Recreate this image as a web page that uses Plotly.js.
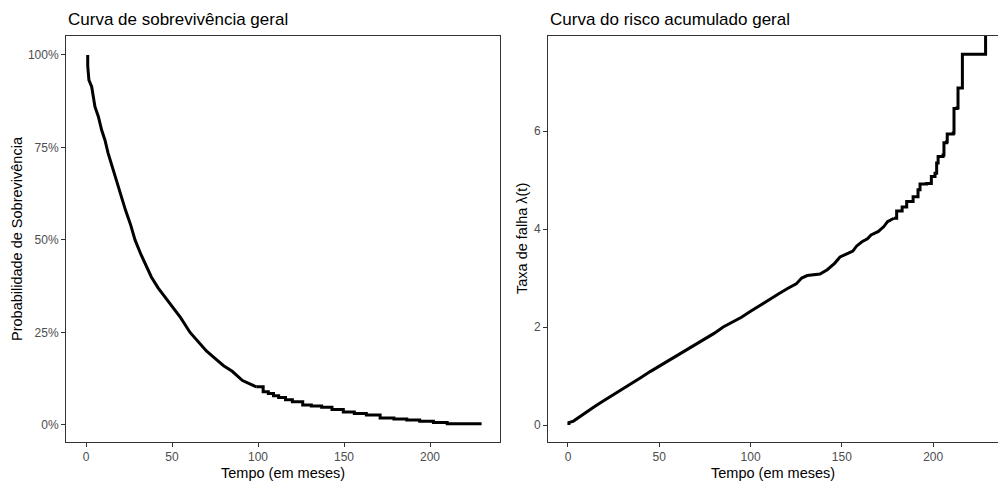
<!DOCTYPE html>
<html>
<head>
<meta charset="utf-8">
<script src="https://cdn.plot.ly/plotly-3.0.1.min.js"></script>
<style>
html,body{margin:0;padding:0;background:#fff;overflow:hidden;}
#chart{width:998px;height:487px;}
</style>
</head>
<body>
<div id="chart"></div>
<script>
// Survival curve: dense early part (many small steps) and sparser tail
var survTimeEarly = [1, 1, 1.7, 3.3, 5.2, 7.2, 9.1, 11, 12.8, 14.5, 17, 20, 23, 26, 28.5, 32, 35, 38, 42, 46, 50, 55, 60.5, 65, 70, 75, 80, 85, 91, 99];
var survProbEarly = [1.0, 0.97, 0.932, 0.914, 0.86, 0.833, 0.797, 0.77, 0.735, 0.708, 0.67, 0.625, 0.58, 0.54, 0.5, 0.46, 0.43, 0.40, 0.37, 0.345, 0.32, 0.29, 0.25, 0.225, 0.20, 0.18, 0.16, 0.145, 0.12, 0.103];
var survTimeTail = [99, 103, 106, 109, 112, 116, 120, 126, 131, 137, 143, 149.6, 156, 163, 171, 179, 186.5, 194, 202, 210, 230];
var survProbTail = [0.103, 0.09, 0.085, 0.079, 0.074, 0.068, 0.063, 0.054, 0.051, 0.048, 0.042, 0.035, 0.031, 0.027, 0.019, 0.016, 0.0135, 0.01, 0.007, 0.003, 0.003];

// Cumulative hazard: smooth-looking early part and visible steps in the tail
// (last value is infinite: drawn to the panel edge)
var hazTimeEarly = [0.5, 0.5, 3, 6, 10, 14, 18, 22, 26, 30, 35, 40, 45, 50, 55, 60, 65, 70, 75, 80, 85, 90, 95, 100, 105, 110, 115, 120, 125, 128, 131, 138, 142, 146, 149, 153, 156, 158, 161, 164, 166, 170, 173, 175, 178.5];
var hazValEarly = [0, 0.05, 0.08, 0.16, 0.25, 0.36, 0.46, 0.55, 0.65, 0.74, 0.86, 0.97, 1.09, 1.2, 1.31, 1.42, 1.53, 1.64, 1.75, 1.87, 2.0, 2.1, 2.2, 2.32, 2.44, 2.56, 2.67, 2.78, 2.88, 3.0, 3.05, 3.08, 3.17, 3.3, 3.43, 3.5, 3.55, 3.65, 3.74, 3.8, 3.88, 3.95, 4.05, 4.15, 4.22];
var hazTimeTail = [178.5, 180, 183, 185.5, 189, 191.7, 192.8, 196.4, 199, 201, 201.9, 202.7, 205.4, 205.9, 207.4, 207.7, 211, 211.4, 213, 213.6, 216, 228.7];
var hazValTail = [4.22, 4.37, 4.45, 4.56, 4.66, 4.8, 4.92, 4.93, 5.07, 5.14, 5.35, 5.48, 5.51, 5.76, 5.78, 5.94, 5.96, 6.46, 6.47, 6.88, 7.57, 50];

// Ticks
var xTicks = [0, 50, 100, 150, 200];
var survTicks = [0, 0.25, 0.5, 0.75, 1];
var survTickText = ['0%', '25%', '50%', '75%', '100%'];
var hazTicks = [0, 2, 4, 6];

var FONT = 'Liberation Sans, Arial, sans-serif';
function line(shape) { return {color: '#000000', width: 3, shape: shape}; }

var traces = [
  {x: survTimeEarly, y: survProbEarly, type: 'scatter', mode: 'lines', line: line('linear'), xaxis: 'x', yaxis: 'y'},
  {x: survTimeTail, y: survProbTail, type: 'scatter', mode: 'lines', line: line('hv'), xaxis: 'x', yaxis: 'y'},
  {x: hazTimeEarly, y: hazValEarly, type: 'scatter', mode: 'lines', line: line('linear'), xaxis: 'x2', yaxis: 'y2'},
  {x: hazTimeTail, y: hazValTail, type: 'scatter', mode: 'lines', line: line('hv'), xaxis: 'x2', yaxis: 'y2'}
];

var axisCommon = {
  showgrid: false, zeroline: false, showline: true, linecolor: '#333333', linewidth: 1,
  ticks: 'outside', ticklen: 4, tickwidth: 1, tickcolor: '#333333',
  tickfont: {family: FONT, size: 12, color: '#4D4D4D'}, fixedrange: true
};

function ax(extra) { return Object.assign({}, axisCommon, extra); }

var W = 998, H = 487;
var layout = {
  width: W, height: H,
  margin: {l: 0, r: 0, t: 0, b: 0},
  paper_bgcolor: '#ffffff', plot_bgcolor: '#ffffff',
  showlegend: false,
  font: {family: FONT},
  xaxis: ax({domain: [66 / W, 500 / W], range: [-11.63, 240.7], tickvals: xTicks, mirror: true, anchor: 'y'}),
  yaxis: ax({domain: [(H - 442) / H, (H - 36) / H], range: [-0.046, 1.051], tickvals: survTicks, ticktext: survTickText, mirror: true, anchor: 'x'}),
  xaxis2: ax({domain: [548 / W, 1], range: [-10.95, 235.5], tickvals: xTicks, mirror: true, anchor: 'y2'}),
  yaxis2: ax({domain: [(H - 442) / H, (H - 36) / H], range: [-0.347, 7.94], tickvals: hazTicks, mirror: false, anchor: 'x2'}),
  annotations: [
    {text: 'Curva de sobrevivência geral', xref: 'paper', yref: 'paper', x: 66 / W, y: 1 - 20 / H, xanchor: 'left', yanchor: 'middle', showarrow: false, font: {family: FONT, size: 17, color: '#000000'}},
    {text: 'Curva do risco acumulado geral', xref: 'paper', yref: 'paper', x: 548 / W, y: 1 - 20 / H, xanchor: 'left', yanchor: 'middle', showarrow: false, font: {family: FONT, size: 17, color: '#000000'}},
    {text: 'Tempo (em meses)', xref: 'paper', yref: 'paper', x: 283 / W, y: 1 - 473 / H, xanchor: 'center', yanchor: 'middle', showarrow: false, font: {family: FONT, size: 14.5, color: '#000000'}},
    {text: 'Tempo (em meses)', xref: 'paper', yref: 'paper', x: 773 / W, y: 1 - 473 / H, xanchor: 'center', yanchor: 'middle', showarrow: false, font: {family: FONT, size: 14.5, color: '#000000'}},
    {text: 'Probabilidade de Sobrevivência', xref: 'paper', yref: 'paper', x: 17 / W, y: 1 - 239 / H, xanchor: 'center', yanchor: 'middle', textangle: -90, showarrow: false, font: {family: FONT, size: 14.5, color: '#000000'}},
    {text: 'Taxa de falha λ(t)', xref: 'paper', yref: 'paper', x: 522 / W, y: 1 - 239 / H, xanchor: 'center', yanchor: 'middle', textangle: -90, showarrow: false, font: {family: FONT, size: 14.5, color: '#000000'}}
  ]
};

Plotly.newPlot('chart', traces, layout, {displayModeBar: false, staticPlot: true});
</script>
</body>
</html>
